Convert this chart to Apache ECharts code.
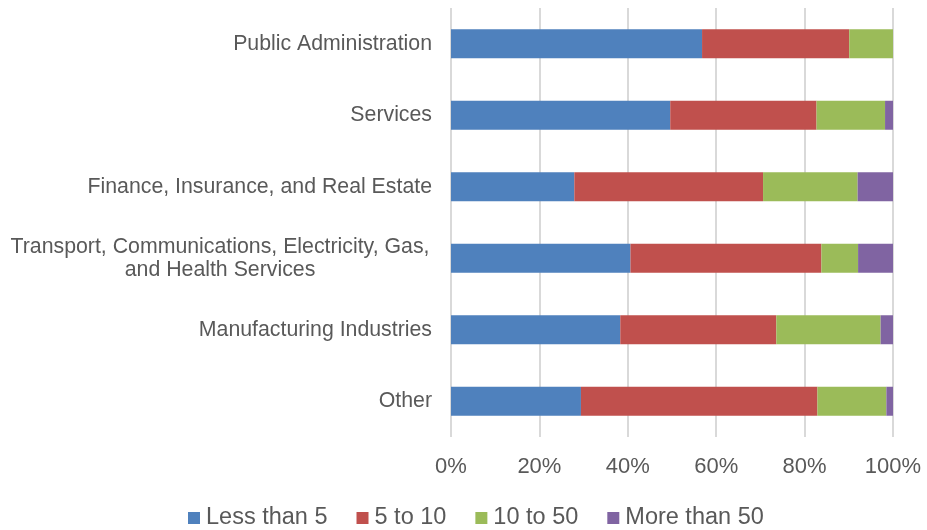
<!DOCTYPE html>
<html>
<head>
<meta charset="utf-8">
<script src="https://cdn.jsdelivr.net/npm/echarts@6/dist/echarts.min.js"></script>
<style>html,body{margin:0;padding:0;background:#fff}#c{width:927px;height:530px}</style>
</head>
<body>
<div id="c"></div>
<script>
const categories = [
  "Public Administration",
  "Services",
  "Finance, Insurance, and Real Estate",
  "Transport, Communications, Electricity, Gas,\nand Health Services",
  "Manufacturing Industries",
  "Other"
];
const seriesNames = ["Less than 5", "5 to 10", "10 to 50", "More than 50"];
const lessThan5 = [56.8, 49.6, 27.9, 40.6, 38.3, 29.4];
const from5to10 = [33.3, 33.1, 42.7, 43.2, 35.3, 53.5];
const from10to50 = [9.9, 15.5, 21.4, 8.3, 23.6, 15.6];
const moreThan50 = [0.0, 1.8, 8.0, 7.9, 2.8, 1.5];
const tickLabels = ["0%", "20%", "40%", "60%", "80%", "100%"];

const colors = ["#4F81BD", "#C0504D", "#9BBB59", "#8064A2"];
const values = [lessThan5, from5to10, from10to50, moreThan50];
const textColor = "#595959";
const font = "'Liberation Sans', Arial, sans-serif";

const chart = echarts.init(document.getElementById('c'), null, {renderer: 'canvas'});
chart.setOption({
  animation: false,
  color: colors,
  grid: {left: 451, right: 34, top: 8, bottom: 93, containLabel: false},
  xAxis: {
    type: 'value', min: 0, max: 100, interval: 20,
    axisLine: {show: false}, axisTick: {show: false},
    splitLine: {show: true, lineStyle: {color: '#d9d9d9', width: 2}},
    axisLabel: {
      margin: 19, color: textColor, fontSize: 22, fontFamily: font,
      formatter: function (v) { return tickLabels[Math.round(v / 20)]; }
    }
  },
  yAxis: {
    type: 'category', data: categories, inverse: true,
    axisLine: {show: false}, axisTick: {show: false},
    axisLabel: {
      margin: 19, color: textColor, fontSize: 21.3, fontFamily: font, lineHeight: 23,
      formatter: function (v) {
        if (v.indexOf('\n') >= 0) return '{m|' + v + '}';
        return v;
      },
      rich: {m: {width: 424, align: 'center', fontSize: 21.3, lineHeight: 23, color: textColor, fontFamily: font}}
    }
  },
  legend: {
    left: 183, top: 501, itemWidth: 12, itemHeight: 12, itemGap: 29,
    icon: 'rect',
    textStyle: {color: textColor, fontSize: 23.5, fontFamily: font, padding: [0, 0, 0, 1]},
    data: seriesNames
  },
  series: seriesNames.map(function (name, i) {
    return {
      name: name, type: 'bar', stack: 'total', barWidth: 29,
      data: values[i],
      itemStyle: {color: colors[i]}
    };
  })
});
</script>
</body>
</html>
